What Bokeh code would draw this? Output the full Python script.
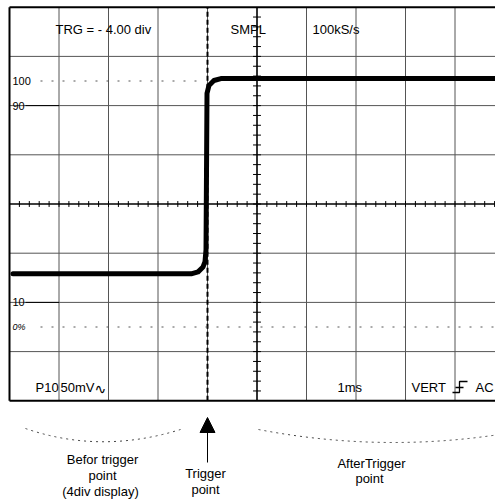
import numpy as np
from bokeh.plotting import figure
from bokeh.models import Range1d, Arrow, NormalHead
from bokeh.embed import file_html
from bokeh.resources import INLINE
from bokeh.core.properties import value

# ---------------- data (in screen divisions) ----------------
grid_cols = [1, 2, 3, 4, 5, 6, 7, 8, 9]
grid_rows = [-3, -2, -1, 1, 2, 3]
trigger_div = 4
level_labels = ["100", "90", "10", "0%"]
level_divs = [2.5, 2.0, -2.0, -2.5]
wave_t = [0.07, 3.67, 3.81, 3.91, 3.95, 3.97, 3.99, 4.03, 4.13, 4.27, 9.95]
wave_v = [-1.42, -1.42, -1.38, -1.28, -1.17, -0.93, 2.25, 2.41, 2.51, 2.55, 2.55]
top_labels = ["TRG = - 4.00 div", "SMPL", "100kS/s"]
bottom_labels = ["P10", "50mV", "1ms", "VERT", "AC"]
notes = ["Befor trigger", "point", "(4div display)", "Trigger", "point", "AfterTrigger", "point"]

# ---------------- layout helpers (image pixels -> divisions) ----------------
W, H = 495, 499
X0, SX = 9.0, 49.5
Y0, SY = 203.5, 49.2
def X(px):
    return (px - X0) / SX
def Y(py):
    return (Y0 - py) / SY

FONT = value("Liberation Sans")

p = figure(width=W, height=H, x_range=Range1d(X(0), X(W)), y_range=Range1d(Y(H), Y(0)),
           output_backend="svg", toolbar_location=None, min_border=0)
p.axis.visible = False
p.grid.visible = False
p.outline_line_color = None
p.background_fill_color = "white"

XR = 10.2
# grid
p.segment(x0=grid_cols, y0=[-4] * len(grid_cols), x1=grid_cols, y1=[4] * len(grid_cols),
          line_color="#555555", line_width=1)
p.segment(x0=[0] * len(grid_rows), y0=grid_rows, x1=[XR] * len(grid_rows), y1=grid_rows,
          line_color="#555555", line_width=1)
# centre axes
p.segment(x0=[0], y0=[0], x1=[XR], y1=[0], line_color="black", line_width=1.4)
p.segment(x0=[5], y0=[-4], x1=[5], y1=[4], line_color="black", line_width=1.4)
tx = np.arange(0.2, 10.0, 0.2)
p.segment(x0=tx, y0=-0.06, x1=tx, y1=0.06, line_color="black", line_width=1)
ty = np.arange(-3.8, 4.0, 0.2)
p.segment(x0=5 - 0.08, y0=ty, x1=5 + 0.08, y1=ty, line_color="black", line_width=1)
# frame
p.segment(x0=[0, 0, 0], y0=[-4, 4, -4], x1=[0, XR, XR], y1=[4, 4, -4], line_color="black", line_width=2)
# trigger line
p.segment(x0=[trigger_div], y0=[-4], x1=[trigger_div], y1=[4], line_color="black", line_width=2, line_dash="5 3")
# reference levels 100% / 0%
p.segment(x0=[X(40)], y0=[level_divs[0]], x1=[trigger_div - 0.1], y1=[level_divs[0]],
          line_color="#555555", line_width=1, line_dash="2 9")
p.segment(x0=[X(40)], y0=[level_divs[3]], x1=[XR], y1=[level_divs[3]],
          line_color="#555555", line_width=1, line_dash="2 9")
p.segment(x0=[X(25), X(25)], y0=[level_divs[1], level_divs[2]], x1=[1, 1], y1=[level_divs[1], level_divs[2]],
          line_color="black", line_width=1)
p.text(x=[X(12)] * 3, y=level_divs[:3], text=level_labels[:3], text_font=FONT, text_font_size="11px",
       text_baseline="middle", text_color="black")
p.text(x=[X(12)], y=[level_divs[3]], text=[level_labels[3]], text_font=FONT, text_font_size="9px",
       text_font_style="italic", text_baseline="middle", text_color="black")

# waveform
p.line(wave_t, wave_v, line_color="black", line_width=5, line_join="round", line_cap="round")

# top labels
p.text(x=[X(55), X(230), X(312)], y=[Y(29)] * 3, text=top_labels, text_font=FONT, text_font_size="13px",
       text_baseline="middle", text_color="black")
# bottom labels
p.text(x=[X(35), X(60), X(337), X(411), X(475)], y=[Y(387)] * 5, text=bottom_labels, text_font=FONT,
       text_font_size="13px", text_baseline="middle", text_color="black")
p.text(x=[X(94)], y=[Y(388)], text=["\u223f"], text_font=value("DejaVu Sans"), text_font_size="14px",
       text_baseline="middle", text_color="black")
# trigger slope symbol
p.line([X(452), X(459), X(459), X(467)], [Y(392), Y(392), Y(381), Y(381)], line_color="black", line_width=1.3)
p.line([X(455), X(463)], [Y(387), Y(387)], line_color="black", line_width=1.3)

# below-screen annotations
p.quadratic(x0=[X(25), X(258)], y0=[Y(428), Y(429)], x1=[X(180), X(528)], y1=[Y(429), Y(429)],
            cx=[X(100), X(393)], cy=[Y(454), Y(455)], line_color="#444444", line_width=1, line_dash="2 4")
p.add_layout(Arrow(end=NormalHead(size=15, fill_color="black", line_color="black"),
                   x_start=trigger_div, y_start=Y(462), x_end=trigger_div, y_end=Y(417),
                   line_color="black", line_width=1))
p.text(x=[X(102), X(102), X(100), X(205), X(205), X(371), X(369)],
       y=[Y(459), Y(475), Y(491), Y(473), Y(489), Y(463), Y(478)], text=notes, text_font=FONT,
       text_font_size="13px", text_align="center", text_baseline="middle", text_color="black")

open("out.html", "w").write(file_html(p, INLINE))
